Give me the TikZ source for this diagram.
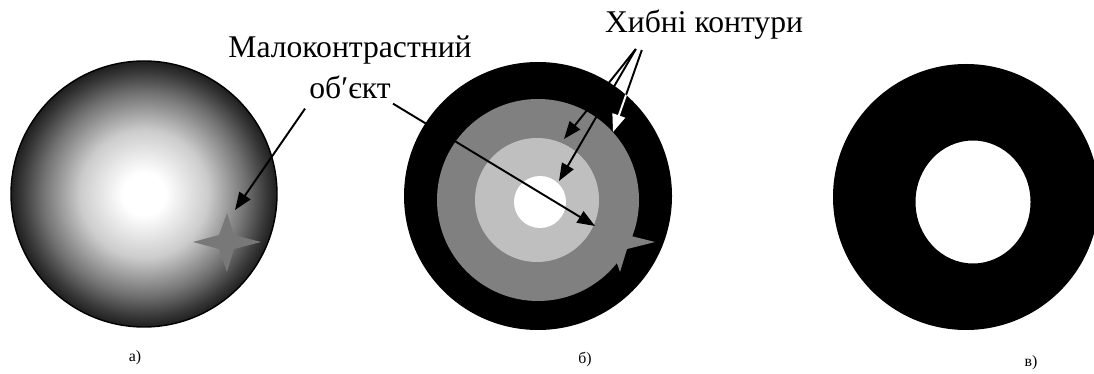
\documentclass[tikz,border=0pt]{standalone}
\usepackage{fontspec}
\setmainfont{Liberation Serif}
\usetikzlibrary{arrows.meta, positioning}

% grey lens for the first picture
\pgfdeclareradialshading{lens}{\pgfpoint{0bp}{0bp}}{color(0bp)=(white); color(4bp)=(white); color(12bp)=(black!20); color(19bp)=(black!55); color(23bp)=(black!78); color(25bp)=(black!88); color(50bp)=(black)}

\begin{document}
\begin{tikzpicture}[
x=0.02cm, y=-0.02cm,
% Define styles
caption/.style = {font=\fontsize{18}{23.3}\selectfont, align=center},
sublabel/.style = {font=\fontsize{9}{11}\selectfont},
pointer/.style = {line width=1.1pt, -{Triangle[length=10pt, width=7.5pt]}},
flare/.style = {fill=black!50}
]
\clip (0,0) rectangle (1094,374);

% Picture a: shaded lens
\shade[shading=lens] (144,194) circle (133);
\draw[line width=0.8pt] (144,194) circle (133);
\fill[flare, fill=black!53] (193,242) -- (219,235) -- (227,213) -- (234,235) -- (261,242) -- (234,249) -- (227,272) -- (219,249) -- cycle;

% Picture b: quantised lens
\fill[black] (538,196) circle (134);
\fill[black!50] (538,200) circle (101);
\fill[black!25] (537,200) circle (62);
\fill[white] (540,202) circle (26);
\fill[flare] (586,242) -- (612,235) -- (620,213) -- (627,235) -- (655,242) -- (627,249) -- (620,272) -- (612,249) -- cycle;

% Picture c: thresholded lens
\fill[black, even odd rule] (966,197) circle (133) (973,202) ellipse (57.5 and 61.5);

% Labels
\node (lowcon) [caption] at (350,67) {Малоконтрастний\\об′єкт};
\node (falsecon) [caption, anchor=base] at (704,33) {Хибні контури};
\node (capA) [sublabel] at (135,358) {а)};
\node (capB) [sublabel] at (585,360) {б)};
\node (capC) [sublabel] at (1031,363) {в)};

% Arrow ends
\coordinate (lowA) at ([shift={(-45,4)}]lowcon.south);
\coordinate (lowB) at ([shift={(43,-1)}]lowcon.south);
\coordinate (falseA) at ([shift={(37,3)}]falsecon.south west);
\coordinate (falseB) at ([shift={(43,4)}]falsecon.south west);
\coordinate (starA) at (235,210);
\coordinate (starB) at (595,226);
\coordinate (ringA) at (564,139);
\coordinate (ringB) at (559,181);
\coordinate (ringC) at (613,132);

% Arrows
\draw [pointer] (lowA) -- (starA);
\draw [pointer] (lowB) -- (starB);
\draw [pointer] (falseA) -- (ringA);
\draw [pointer] (falseA) -- (ringB);
\draw [pointer] (falseB) -- (ringC);
\begin{scope}
\clip (538,196) circle (134);
\draw [pointer, white] (falseB) -- (ringC);
\end{scope}
\end{tikzpicture}
\end{document}
